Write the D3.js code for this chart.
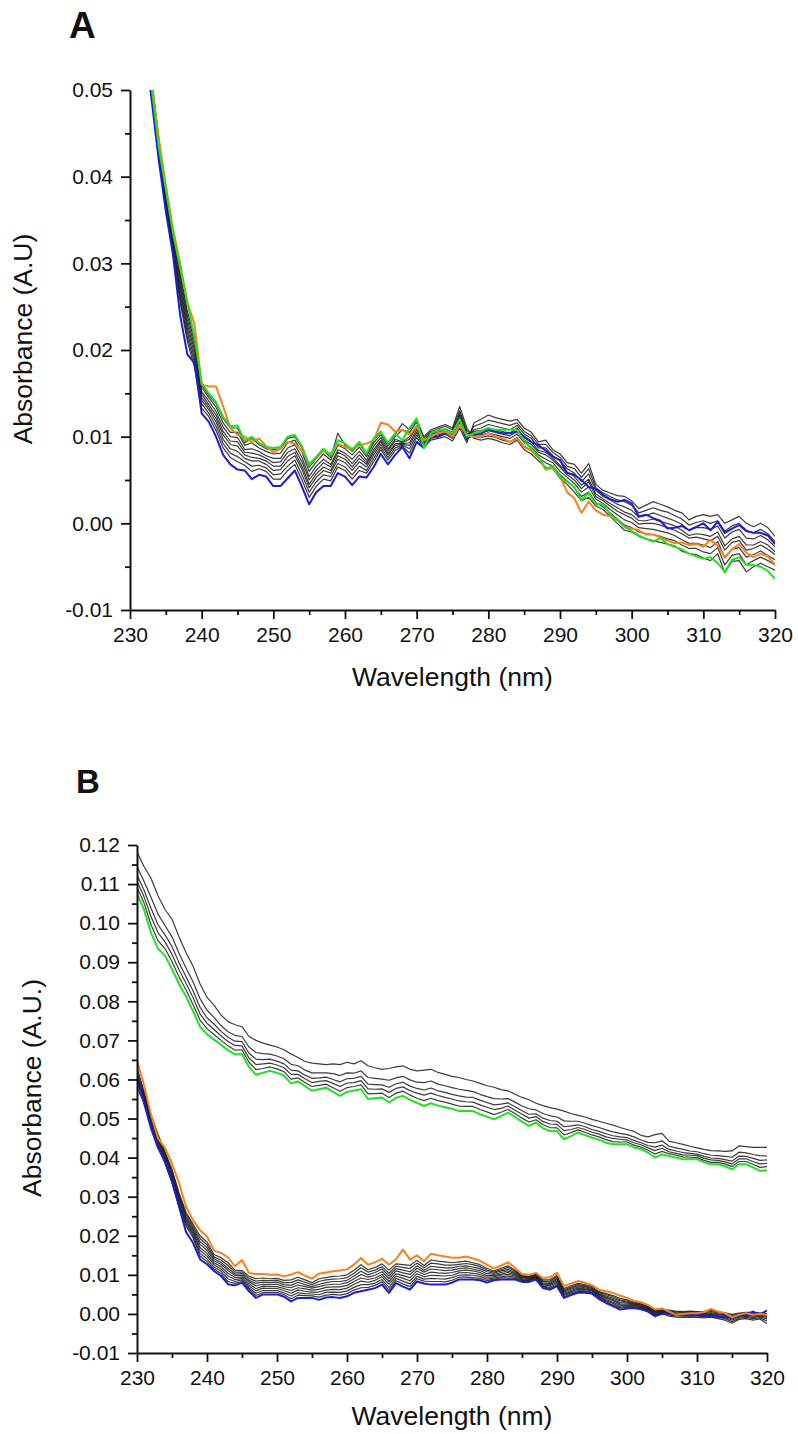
<!DOCTYPE html>
<html>
<head>
<meta charset="utf-8">
<script src="https://cdn.jsdelivr.net/npm/d3@7"></script>
<style>
  html, body { margin: 0; padding: 0; background: #fff; }
  svg { display: block; }
  text { font-family: "Liberation Sans", Arial, Helvetica, sans-serif; fill: #111; }
</style>
</head>
<body>
<svg id="chart" width="798" height="1434"></svg>
<script>
// Sampling grid: one point per nm, 230..320 nm
const wavelengths = d3.range(230, 321);

const xTicks = [230, 240, 250, 260, 270, 280, 290, 300, 310, 320];
const xMinorTicks = [235, 245, 255, 265, 275, 285, 295, 305, 315];
const yTicksA = [-0.01, 0.00, 0.01, 0.02, 0.03, 0.04, 0.05];
const yMinorTicksA = [-0.005, 0.005, 0.015, 0.025, 0.035, 0.045];
const yTicksB = [-0.01, 0.00, 0.01, 0.02, 0.03, 0.04, 0.05, 0.06, 0.07, 0.08, 0.09, 0.10, 0.11, 0.12];
const yMinorTicksB = [-0.005, 0.005, 0.015, 0.025, 0.035, 0.045, 0.055, 0.065, 0.075, 0.085, 0.095, 0.105, 0.115];

// ---- Panel A spectra (absorbance in 10^-3 A.U.) ----
const aBlue = [
  74, 64, 56, 49, 42, 36, 31, 24, 19.5, 18.5,
  12.7, 11.7, 10.0, 7.9, 6.8, 6.2, 6.1, 5.1, 5.6, 5.4,
  4.3, 4.3, 5.2, 6.1, 4.2, 2.2, 3.6, 4.3, 4.3, 5.8,
  5.4, 4.4, 5.4, 5.3, 6.5, 8.0, 6.8, 7.9, 8.8, 7.5,
  9.4, 8.7, 10.0, 10.0, 10.4, 10.0, 11.8, 9.8, 10.2, 10.4,
  10.8, 10.6, 10.4, 10.4, 10.6, 10.0, 9.4, 9.0, 8.4, 7.7,
  7.3, 5.8, 5.6, 5.0, 4.2, 4.0, 3.3, 2.8, 2.5, 2.7,
  2.3, 0.8, 1.0, 0.6, 0.3, -0.6, -0.5, -0.3, -0.8, -0.4,
  0.0, -0.8, 0.2, -1.1, -0.6, -0.2, -0.9, -1.1, -1.1, -1.4, -2.4
];
const aOrange = [
  77, 67, 59, 51, 44.5, 39, 34, 30, 25.5, 23,
  16.0, 15.8, 15.8, 13.5, 11.0, 10.2, 10.0, 9.4, 9.8, 8.9,
  8.2, 8.6, 9.4, 9.2, 8.4, 6.9, 7.6, 8.4, 8.0, 9.2,
  8.8, 8.6, 9.0, 9.2, 9.6, 11.6, 11.4, 10.6, 10.8, 10.2,
  11.2, 9.6, 10.0, 10.4, 10.6, 10.0, 11.4, 10.2, 10.0, 10.0,
  10.4, 10.0, 9.8, 9.4, 9.8, 8.8, 8.4, 7.6, 6.2, 6.4,
  5.4, 3.6, 2.9, 1.2, 2.5, 1.5, 1.0, 0.8, 0.4, -0.4,
  -0.6, -0.8, -1.3, -1.3, -1.6, -2.0, -2.3, -2.2, -2.5, -2.4,
  -2.7, -1.9, -2.6, -3.9, -3.0, -2.4, -3.4, -3.9, -3.5, -3.8, -4.8
];
const aGreen = [
  76, 66, 58, 50.5, 43.5, 38.5, 33.5, 29.5, 25.5, 21.5,
  16.2, 15.0, 14.0, 12.3, 11.2, 11.3, 9.5, 10.0, 9.3, 8.8,
  8.7, 8.8, 10.0, 10.2, 8.9, 6.7, 7.7, 8.6, 7.8, 9.6,
  9.2, 8.5, 9.4, 8.1, 9.8, 10.6, 9.3, 10.4, 9.6, 11.0,
  12.1, 8.7, 10.4, 10.8, 10.8, 10.4, 12.0, 10.0, 10.4, 10.6,
  11.0, 10.8, 10.8, 10.8, 10.8, 9.5, 8.6, 7.7, 6.3, 6.6,
  5.3, 4.8, 4.2, 2.7, 3.5, 2.2, 2.2, 1.0, 0.4, -0.4,
  -0.9, -1.4, -1.8, -2.1, -1.7, -2.4, -2.7, -3.0, -3.5, -3.8,
  -4.1, -3.9, -4.6, -5.6, -4.2, -3.9, -4.8, -4.8, -5.0, -5.5, -6.4
];
const aBlack1 = [
  75, 65, 57, 49.5, 42.5, 36.5, 31, 25.5, 21, 18,
  13.3, 12.3, 10.7, 8.7, 7.6, 7.1, 6.7, 6.0, 6.3, 6.0,
  5.1, 5.1, 6.1, 6.8, 5.0, 3.0, 4.3, 5.1, 4.9, 6.5,
  6.1, 5.1, 6.1, 5.8, 7.1, 8.5, 7.3, 8.4, 8.9, 8.1,
  9.9, 8.8, 9.6, 9.8, 10.0, 9.5, 11.0, 9.3, 11.6, 12.0,
  12.5, 12.2, 12.0, 11.8, 12.0, 11.0, 10.5, 9.4, 9.6, 8.5,
  8.0, 7.0, 6.8, 5.8, 6.9, 4.5, 3.8, 3.5, 3.2, 3.1,
  2.6, 1.7, 2.1, 2.5, 2.2, 1.9, 1.5, 1.2, 0.4, 0.8,
  1.0, 0.8, 1.0, 0.0, 0.4, 0.8, 0.0, -0.4, 0.0, -0.5, -1.5
];
const aBlack2 = [
  75.5, 65.5, 57, 50, 43, 37, 31.5, 26, 21.5, 18.5,
  13.8, 12.7, 11.2, 9.2, 8.1, 7.7, 7.1, 6.6, 6.7, 6.4,
  5.6, 5.7, 6.6, 7.3, 5.6, 3.6, 4.8, 5.6, 5.4, 6.9,
  6.5, 5.6, 6.6, 6.1, 7.5, 8.8, 7.6, 8.7, 9.0, 8.6,
  10.2, 9.0, 9.8, 10.0, 10.3, 9.8, 11.4, 9.6, 11.2, 11.5,
  11.9, 11.7, 11.5, 11.3, 11.6, 10.6, 10.1, 9.1, 9.1, 8.2,
  7.6, 6.6, 6.3, 5.3, 6.3, 4.1, 3.5, 3.1, 2.7, 2.5,
  2.1, 1.2, 1.5, 1.8, 1.5, 1.3, 0.9, 0.5, -0.2, 0.1,
  0.3, 0.0, 0.3, -0.9, -0.3, 0.0, -0.8, -1.1, -0.7, -1.2, -2.1
];
const aBlack3 = [
  76, 66, 57.5, 50, 43, 37, 32, 26.5, 22, 19,
  14.2, 13.1, 11.7, 9.7, 8.6, 8.3, 7.5, 7.2, 7.2, 6.8,
  6.1, 6.2, 7.2, 7.8, 6.2, 4.1, 5.3, 6.1, 5.8, 7.4,
  7.0, 6.1, 7.1, 6.5, 7.9, 9.1, 7.9, 9.0, 9.1, 9.0,
  10.5, 9.2, 10.0, 10.2, 10.5, 10.0, 11.8, 9.8, 10.8, 11.0,
  11.4, 11.2, 11.0, 10.8, 11.3, 10.3, 9.8, 8.7, 8.7, 7.8,
  7.2, 6.3, 5.8, 4.8, 5.7, 3.8, 3.1, 2.7, 2.2, 1.9,
  1.5, 0.7, 0.9, 1.2, 0.9, 0.6, 0.3, -0.1, -0.8, -0.5,
  -0.5, -0.7, -0.3, -1.7, -1.0, -0.7, -1.7, -1.8, -1.4, -1.9, -2.7
];
const aBlack4 = [
  76, 66, 58, 50.5, 43.5, 37.5, 32, 27, 22.5, 19.5,
  14.5, 13.4, 12.1, 10.2, 9.1, 8.9, 7.9, 7.6, 7.5, 7.2,
  6.6, 6.6, 7.7, 8.2, 6.6, 4.5, 5.7, 6.5, 6.1, 7.8,
  7.4, 6.5, 7.5, 6.8, 8.2, 9.4, 8.1, 9.2, 9.2, 9.3,
  10.8, 9.3, 10.1, 10.4, 10.6, 10.2, 12.1, 10.0, 10.6, 10.7,
  11.0, 10.8, 10.6, 10.4, 11.0, 9.9, 9.4, 8.4, 8.2, 7.5,
  6.7, 5.9, 5.4, 4.4, 5.1, 3.4, 2.8, 2.3, 1.8, 1.3,
  1.0, 0.3, 0.3, 0.5, 0.2, 0.0, -0.3, -0.8, -1.4, -1.2,
  -1.3, -1.5, -1.0, -2.6, -1.8, -1.5, -2.5, -2.5, -2.1, -2.5, -3.3
];
const aBlack5 = [
  76.5, 66.5, 58, 50.5, 43.5, 37.5, 32.5, 27.5, 23, 20,
  14.9, 13.7, 12.5, 10.6, 9.5, 9.4, 8.2, 8.1, 7.9, 7.5,
  7.0, 7.1, 8.2, 8.6, 7.1, 5.0, 6.1, 7.0, 6.5, 8.2,
  7.8, 6.9, 7.9, 7.0, 8.5, 9.6, 8.4, 9.5, 9.3, 9.7,
  11.1, 9.5, 10.3, 10.5, 10.8, 10.4, 12.4, 10.2, 10.4, 10.4,
  10.7, 10.5, 10.3, 10.1, 10.6, 9.6, 9.1, 8.2, 7.9, 7.3,
  6.5, 5.6, 5.0, 4.0, 4.8, 3.1, 2.6, 2.0, 1.4, 1.0,
  0.6, -0.1, 0.0, 0.0, -0.2, -0.5, -0.8, -1.2, -1.7, -1.6,
  -1.8, -2.0, -1.5, -3.1, -2.2, -2.0, -3.1, -2.9, -2.5, -3.0, -3.6
];
const aBlack6 = [
  77, 67, 58.5, 51, 44, 38, 33, 28, 23.5, 20.5,
  15.2, 14.1, 12.9, 11.1, 10.0, 9.9, 8.5, 8.6, 8.3, 7.8,
  7.5, 7.5, 8.7, 9.1, 7.6, 5.4, 6.6, 7.4, 6.8, 8.5,
  8.1, 7.4, 8.3, 7.3, 8.9, 9.9, 8.6, 9.7, 9.4, 10.0,
  11.3, 9.6, 10.4, 10.7, 10.9, 10.5, 12.7, 10.4, 10.2, 10.2,
  10.4, 10.2, 10.0, 9.8, 10.3, 9.3, 8.8, 7.9, 7.4, 7.0,
  6.0, 5.3, 4.6, 3.6, 4.2, 2.8, 2.3, 1.6, 1.0, 0.4,
  0.1, -0.5, -0.6, -0.7, -0.9, -1.1, -1.4, -1.9, -2.3, -2.3,
  -2.5, -2.8, -2.1, -4.0, -3.0, -2.8, -3.9, -3.6, -3.2, -3.7, -4.2
];
const aBlack7 = [
  77, 67, 58.5, 51, 44, 38.5, 33, 28.5, 24, 21,
  15.7, 14.5, 13.4, 11.6, 10.5, 10.5, 9.0, 9.3, 8.7, 8.3,
  8.0, 8.1, 9.3, 9.6, 8.2, 6.0, 7.1, 8.0, 7.3, 9.0,
  8.6, 7.9, 8.8, 7.7, 9.3, 10.2, 8.9, 10.0, 10.8, 10.5,
  11.7, 9.8, 10.6, 10.9, 11.2, 10.8, 13.0, 10.7, 10.0, 9.9,
  10.1, 9.9, 9.6, 9.4, 9.9, 8.9, 8.4, 7.5, 7.0, 6.6,
  5.6, 4.9, 4.1, 3.1, 3.6, 2.4, 1.9, 1.2, 0.5, -0.2,
  -0.5, -1.0, -1.2, -1.3, -1.5, -1.8, -2.0, -2.5, -2.9, -2.9,
  -3.3, -3.5, -2.8, -4.8, -3.7, -3.5, -4.8, -4.3, -3.9, -4.3, -4.8
];
const aBlack8 = [
  77.5, 67.5, 59, 51.5, 44.5, 38.5, 33.5, 29, 24.5, 21.5,
  16.0, 14.8, 13.8, 12.1, 11.0, 11.0, 9.3, 9.8, 9.1, 8.6,
  8.5, 8.6, 9.8, 10.0, 8.7, 6.5, 7.5, 8.4, 7.6, 10.4,
  9.0, 8.3, 9.2, 8.0, 9.6, 10.5, 9.2, 10.3, 11.5, 10.8,
  12.0, 10.0, 10.8, 11.1, 11.4, 11.0, 13.5, 11.0, 9.8, 9.6,
  9.8, 9.6, 9.3, 9.1, 9.6, 8.5, 8.0, 7.2, 6.5, 6.3,
  5.2, 4.5, 3.6, 2.6, 3.0, 2.0, 1.6, 0.8, 0.0, -0.8,
  -1.0, -1.5, -1.8, -2.0, -2.2, -2.4, -2.6, -3.2, -3.5, -3.6,
  -4.0, -4.3, -3.5, -5.7, -4.4, -4.3, -5.6, -5.0, -4.6, -5.0, -5.4
];

// ---- Panel B spectra (absorbance in 10^-3 A.U.) ----
const bGreen = [
  107.5, 103.5, 97.5, 93.5, 91.7, 88.2, 84.5, 81.2, 77.5, 73.5,
  71.6, 70.2, 68.9, 67.5, 66.4, 66.5, 63.2, 61.2, 61.7, 62.2,
  61.7, 61.0, 59.0, 59.5, 58.3, 57.1, 57.5, 57.9, 56.8, 55.8,
  56.8, 57.2, 57.5, 55.0, 55.2, 55.4, 54.1, 55.3, 55.8, 54.8,
  54.0, 53.2, 53.9, 53.3, 52.9, 52.5, 51.9, 51.9, 51.9, 51.1,
  50.5, 49.8, 50.6, 51.5, 50.4, 49.2, 48.1, 49.0, 47.5, 46.8,
  46.8, 44.7, 45.5, 46.4, 45.8, 45.1, 44.6, 43.8, 43.4, 43.4,
  43.4, 42.6, 42.2, 41.3, 40.0, 40.8, 40.4, 40.0, 39.6, 39.6,
  39.6, 38.8, 38.3, 38.3, 37.8, 37.0, 38.3, 38.3, 37.5, 36.6, 36.8
];
const bUpper1 = [
  118.2, 114.5, 111.5, 107.0, 103.5, 101.0, 96.5, 92.5, 89.0, 84.5,
  81.0, 79.0, 76.5, 74.8, 74.0, 73.5, 71.0, 70.0, 69.3, 68.8,
  68.3, 67.6, 66.5, 65.6, 64.6, 64.2, 64.0, 63.8, 64.0, 63.8,
  64.4, 64.0, 64.8, 63.5, 63.0, 62.6, 62.8, 63.2, 63.5, 62.6,
  62.2, 62.4, 62.6, 61.8, 61.3, 60.8, 60.5, 60.0, 59.6, 59.0,
  58.4, 58.0, 57.4, 57.1, 56.2, 55.4, 54.8, 53.9, 53.3, 52.8,
  52.4, 51.9, 51.3, 50.8, 50.4, 49.8, 49.3, 48.8, 48.3, 47.7,
  47.2, 46.7, 45.7, 45.3, 45.9, 46.2, 44.2, 43.8, 43.4, 42.9,
  42.5, 42.1, 41.8, 41.7, 41.6, 41.7, 43.0, 42.8, 42.6, 42.6, 42.6
];
const bUpper2 = [
  114.5, 110.7, 106.6, 102.3, 99.4, 96.5, 92.3, 88.5, 85.0, 80.7,
  77.7, 75.9, 73.8, 72.2, 71.3, 71.0, 68.3, 66.9, 66.6, 66.5,
  66.0, 65.3, 63.9, 63.5, 62.4, 61.7, 61.7, 61.7, 61.5, 61.0,
  61.7, 61.6, 62.2, 60.5, 60.3, 60.1, 59.8, 60.4, 60.8, 59.9,
  59.3, 59.2, 59.6, 58.8, 58.4, 57.9, 57.5, 57.2, 56.9, 56.2,
  55.6, 55.1, 55.0, 55.1, 54.2, 53.2, 52.5, 52.2, 51.3, 50.7,
  50.4, 49.4, 49.3, 49.3, 48.8, 48.2, 47.7, 47.1, 46.6, 46.2,
  45.9, 45.3, 44.5, 43.9, 43.8, 44.3, 42.9, 42.5, 42.1, 41.7,
  41.5, 41.0, 40.6, 40.5, 40.3, 40.1, 41.4, 41.2, 40.8, 40.5, 40.4
];
const bUpper3 = [
  112.3, 108.5, 103.8, 99.6, 97.0, 94.0, 89.9, 86.3, 82.7, 78.5,
  75.8, 74.2, 72.3, 70.8, 69.8, 69.7, 66.7, 65.2, 65.1, 65.2,
  64.7, 64.0, 62.4, 62.2, 61.1, 60.3, 60.4, 60.6, 60.0, 59.4,
  60.2, 60.3, 60.8, 58.8, 58.7, 58.6, 58.0, 58.9, 59.3, 58.3,
  57.7, 57.3, 57.8, 57.1, 56.7, 56.2, 55.8, 55.5, 55.4, 54.7,
  54.1, 53.5, 53.7, 54.0, 53.0, 52.0, 51.1, 51.2, 50.1, 49.5,
  49.3, 47.9, 48.1, 48.4, 47.9, 47.2, 46.7, 46.1, 45.6, 45.3,
  45.1, 44.4, 43.8, 43.1, 42.7, 43.2, 42.1, 41.7, 41.3, 41.1,
  40.9, 40.3, 39.9, 39.8, 39.5, 39.1, 40.4, 40.3, 39.8, 39.3, 39.4
];
const bUpper4 = [
  110.7, 106.8, 101.7, 97.6, 95.2, 92.0, 88.1, 84.6, 81.0, 76.8,
  74.4, 72.8, 71.2, 69.7, 68.7, 68.6, 65.5, 63.8, 64.0, 64.2,
  63.7, 63.0, 61.3, 61.3, 60.2, 59.2, 59.5, 59.7, 59.0, 58.2,
  59.1, 59.2, 59.7, 57.6, 57.5, 57.6, 56.7, 57.7, 58.1, 57.1,
  56.5, 56.0, 56.5, 55.9, 55.4, 55.0, 54.5, 54.3, 54.2, 53.5,
  52.9, 52.3, 52.6, 53.2, 52.1, 51.1, 50.1, 50.5, 49.2, 48.6,
  48.5, 46.9, 47.2, 47.7, 47.2, 46.5, 46.0, 45.3, 44.9, 44.7,
  44.5, 43.8, 43.3, 42.5, 41.8, 42.4, 41.5, 41.1, 40.7, 40.6,
  40.5, 39.8, 39.4, 39.3, 38.9, 38.4, 39.7, 39.7, 39.0, 38.4, 38.5
];
const bUpper5 = [
  109.1, 105.2, 99.6, 95.5, 93.5, 90.1, 86.3, 82.9, 79.2, 75.2,
  73.0, 71.5, 70.0, 68.6, 67.5, 67.6, 64.4, 62.5, 62.8, 63.2,
  62.7, 62.0, 60.1, 60.4, 59.2, 58.2, 58.5, 58.8, 57.9, 57.0,
  57.9, 58.2, 58.6, 56.3, 56.4, 56.5, 55.4, 56.5, 57.0, 56.0,
  55.2, 54.6, 55.2, 54.6, 54.2, 53.7, 53.2, 53.1, 53.1, 52.3,
  51.7, 51.0, 51.6, 52.3, 51.3, 50.1, 49.1, 49.7, 48.4, 47.7,
  47.6, 45.8, 46.4, 47.1, 46.5, 45.8, 45.3, 44.6, 44.1, 44.0,
  44.0, 43.2, 42.7, 41.9, 40.9, 41.6, 41.0, 40.6, 40.2, 40.1,
  40.0, 39.3, 38.8, 38.8, 38.4, 37.7, 39.0, 39.0, 38.3, 37.5, 37.7
];
const bBlue = [
  60.5, 54.0, 47.5, 42.5, 39.0, 34.0, 27.5, 21.0, 18.2, 14.0,
  12.7, 11.0, 9.7, 7.6, 7.3, 8.0, 5.8, 4.1, 5.0, 5.0,
  5.0, 4.4, 3.2, 4.1, 4.1, 4.1, 3.6, 4.2, 4.3, 4.1,
  4.5, 5.4, 5.8, 6.2, 6.6, 7.5, 5.4, 7.9, 7.0, 6.2,
  8.3, 7.8, 7.5, 7.5, 7.5, 8.0, 8.8, 8.8, 8.8, 8.6,
  8.0, 8.6, 8.8, 8.8, 8.8, 8.2, 8.2, 8.8, 6.6, 6.2,
  7.1, 4.1, 4.8, 5.4, 5.4, 5.2, 3.8, 2.8, 2.0, 1.1,
  1.4, 1.5, 1.2, 0.6, -0.6, 0.0, 0.1, -0.1, -0.2, -0.2,
  -0.2, -0.4, -0.6, -0.7, -0.8, -0.9, -0.4, -0.2, 0.6, -0.2, 0.9
];
const bOrange = [
  65.0, 58.5, 51.0, 45.0, 42.5, 38.5, 33.5, 27.5, 24.0, 21.5,
  19.8, 16.2, 15.6, 14.5, 12.2, 13.8, 10.5, 10.2, 10.2, 10.0,
  10.1, 9.6, 10.1, 10.7, 9.8, 9.0, 10.3, 10.6, 10.9, 11.1,
  11.4, 12.6, 14.3, 12.6, 13.2, 14.1, 12.6, 14.0, 16.5, 13.9,
  15.0, 13.5, 15.4, 15.0, 14.7, 14.4, 14.4, 14.7, 14.2, 13.6,
  12.6, 11.6, 12.4, 13.2, 11.8, 10.2, 10.0, 10.5, 9.2, 9.4,
  10.5, 7.1, 7.8, 8.4, 8.0, 7.4, 6.2, 5.8, 5.4, 4.7,
  4.1, 3.4, 3.0, 2.3, 1.2, 1.4, 0.6, -0.2, 0.0, 0.2,
  0.2, 0.5, 1.3, 0.6, 0.2, -0.9, -0.2, 0.2, -0.2, 0.0, -0.2
];
const bLower1 = [
  58, 54, 48, 43, 38.5, 33.5, 27.5, 22.5, 19.5, 14.8,
  13.4, 11.5, 10.3, 8.3, 7.8, 8.3, 6.3, 4.7, 5.5, 5.5,
  5.5, 4.9, 3.9, 4.8, 4.7, 4.6, 4.3, 4.8, 5.0, 4.8,
  5.2, 6.1, 6.7, 6.8, 7.3, 8.2, 6.1, 8.5, 7.7, 7.0,
  9.0, 8.4, 8.3, 8.3, 8.2, 8.6, 9.4, 9.4, 9.3, 9.1,
  8.5, 8.9, 9.2, 9.2, 9.1, 8.4, 8.4, 9.0, 6.9, 6.5,
  7.4, 4.4, 5.1, 5.7, 5.7, 5.4, 4.0, 3.1, 2.3, 1.5,
  1.7, 1.7, 1.4, 0.8, -0.4, 0.1, -0.6, -0.8, -0.9, -0.8,
  -0.9, -1.0, -0.8, -1.2, -1.6, -2.4, -1.4, -1.2, -1.6, -1.3, -2.5
];
const bLower2 = [
  59, 54.5, 48.5, 43.5, 39, 34, 28, 23, 20, 15.5,
  14.1, 12.0, 10.9, 9.0, 8.3, 8.7, 6.7, 5.3, 6.0, 6.0,
  6.0, 5.4, 4.6, 5.4, 5.2, 5.1, 4.9, 5.5, 5.6, 5.5,
  5.9, 6.8, 7.5, 7.5, 7.9, 8.8, 6.8, 9.1, 8.4, 7.7,
  9.6, 8.9, 9.1, 9.0, 8.9, 9.3, 9.9, 10.0, 9.9, 9.6,
  8.9, 9.2, 9.5, 9.7, 9.4, 8.6, 8.6, 9.1, 7.1, 6.8,
  7.8, 4.7, 5.4, 6.0, 5.9, 5.6, 4.3, 3.4, 2.7, 1.8,
  1.9, 1.9, 1.6, 0.9, -0.2, 0.3, -0.3, -0.5, -0.6, -0.5,
  -0.6, -0.7, -0.5, -0.9, -1.2, -2.0, -1.1, -0.9, -1.2, -1.0, -1.8
];
const bLower3 = [
  60, 55, 49, 44, 39.5, 34.5, 28.5, 23.5, 20.5, 16.3,
  14.8, 12.6, 11.5, 9.7, 8.8, 9.1, 7.2, 5.9, 6.6, 6.5,
  6.5, 6.0, 5.3, 6.1, 5.8, 5.6, 5.6, 6.1, 6.3, 6.2,
  6.6, 7.6, 8.4, 8.1, 8.6, 9.5, 7.6, 9.7, 9.1, 8.5,
  10.3, 9.5, 9.9, 9.8, 9.7, 9.9, 10.5, 10.6, 10.4, 10.1,
  9.4, 9.5, 9.9, 10.1, 9.7, 8.8, 8.7, 9.3, 7.4, 7.2,
  8.1, 5.0, 5.7, 6.3, 6.2, 5.9, 4.5, 3.7, 3.0, 2.2,
  2.2, 2.1, 1.7, 1.1, -0.1, 0.4, 0.0, -0.3, -0.4, -0.3,
  -0.4, -0.5, -0.3, -0.6, -0.9, -1.6, -0.8, -0.6, -0.9, -0.7, -1.3
];
const bLower4 = [
  60.5, 55.5, 49.5, 44.5, 40, 35, 29, 24, 21, 17.0,
  15.5, 13.1, 12.1, 10.4, 9.3, 9.5, 7.7, 6.5, 7.1, 7.0,
  7.0, 6.5, 6.0, 6.7, 6.4, 6.1, 6.3, 6.8, 6.9, 6.9,
  7.3, 8.3, 9.2, 8.8, 9.2, 10.1, 8.3, 10.3, 9.8, 9.3,
  11.0, 10.1, 10.7, 10.5, 10.4, 10.6, 11.0, 11.2, 11.0, 10.6,
  9.8, 9.8, 10.2, 10.6, 10.0, 9.0, 8.9, 9.5, 7.6, 7.5,
  8.5, 5.3, 6.0, 6.6, 6.4, 6.1, 4.8, 4.0, 3.4, 2.5,
  2.5, 2.3, 1.9, 1.3, 0.1, 0.6, 0.2, -0.1, -0.2, -0.1,
  -0.2, -0.3, -0.1, -0.4, -0.6, -1.3, -0.6, -0.4, -0.6, -0.5, -0.9
];
const bLower5 = [
  61, 56, 50, 45, 40.5, 35.5, 29.5, 24.5, 21.5, 17.8,
  16.3, 13.6, 12.7, 11.1, 9.8, 9.9, 8.2, 7.2, 7.6, 7.5,
  7.6, 7.0, 6.7, 7.4, 7.0, 6.6, 7.0, 7.4, 7.6, 7.6,
  8.0, 9.0, 10.1, 9.4, 9.9, 10.8, 9.0, 11.0, 10.5, 10.1,
  11.7, 10.7, 11.5, 11.3, 11.1, 11.2, 11.6, 11.8, 11.5, 11.1,
  10.3, 10.1, 10.6, 11.0, 10.3, 9.2, 9.1, 9.7, 7.9, 7.8,
  8.8, 5.6, 6.3, 6.9, 6.7, 6.3, 5.0, 4.3, 3.7, 2.9,
  2.8, 2.5, 2.1, 1.5, 0.3, 0.7, 0.4, 0.1, 0.0, 0.1,
  0.0, -0.1, 0.1, -0.2, -0.4, -1.0, -0.4, -0.2, -0.4, -0.3, -0.6
];
const bLower6 = [
  61.5, 56, 50.5, 45.5, 41, 36, 30, 25, 22, 18.5,
  17.0, 14.1, 13.2, 11.7, 10.2, 10.3, 8.6, 7.8, 8.1, 8.0,
  8.1, 7.5, 7.3, 8.1, 7.5, 7.0, 7.6, 8.0, 8.3, 8.3,
  8.6, 9.7, 10.9, 10.0, 10.6, 11.5, 9.7, 11.6, 11.2, 10.8,
  12.3, 11.2, 12.2, 12.0, 11.8, 11.8, 12.2, 12.3, 12.0, 11.6,
  10.8, 10.4, 11.0, 11.4, 10.6, 9.4, 9.3, 9.8, 8.2, 8.1,
  9.1, 5.9, 6.6, 7.2, 7.0, 6.5, 5.2, 4.6, 4.0, 3.3,
  3.0, 2.6, 2.3, 1.6, 0.5, 0.8, 0.6, 0.3, 0.2, 0.3,
  0.2, 0.1, 0.3, 0.0, -0.2, -0.7, -0.2, 0.0, -0.1, -0.1, -0.4
];
const bLower7 = [
  62, 56.5, 51, 45.5, 41, 36.5, 30.5, 25.5, 22.5, 19.3,
  17.7, 14.6, 13.8, 12.4, 10.7, 10.7, 9.1, 8.4, 8.6, 8.5,
  8.6, 8.0, 8.0, 8.7, 8.1, 7.5, 8.3, 8.7, 8.9, 9.0,
  9.3, 10.4, 11.8, 10.7, 11.2, 12.1, 10.4, 12.2, 11.9, 11.6,
  13.0, 11.8, 13.0, 12.8, 12.5, 12.5, 12.7, 12.9, 12.6, 12.1,
  11.2, 10.7, 11.3, 11.9, 10.9, 9.6, 9.5, 10.0, 8.4, 8.4,
  9.5, 6.2, 6.9, 7.5, 7.2, 6.7, 5.5, 4.9, 4.4, 3.6,
  3.3, 2.8, 2.5, 1.8, 0.7, 1.0, 0.8, 0.5, 0.4, 0.5,
  0.4, 0.3, 0.6, 0.3, 0.1, -0.4, 0.0, 0.2, 0.1, 0.1, -0.2
];
const bLower8 = [
  63, 57, 51, 46, 41.5, 37, 31, 26, 23, 20.0,
  18.4, 15.2, 14.4, 13.1, 11.2, 11.1, 9.6, 9.0, 9.2, 9.0,
  9.1, 8.6, 8.7, 9.4, 8.7, 8.0, 9.0, 9.3, 9.6, 9.7,
  10.0, 11.2, 12.6, 11.3, 11.9, 12.8, 11.2, 12.8, 12.6, 12.4,
  13.7, 12.4, 13.8, 13.5, 13.3, 13.1, 13.3, 13.5, 13.1, 12.6,
  11.7, 11.0, 11.7, 12.3, 11.2, 9.8, 9.6, 10.2, 8.7, 8.8,
  9.8, 6.5, 7.2, 7.8, 7.5, 7.0, 5.7, 5.2, 4.7, 4.0,
  3.6, 3.0, 2.6, 2.0, 0.8, 1.1, 1.0, 0.7, 0.6, 0.7,
  0.6, 0.6, 0.9, 0.5, 0.3, -0.1, 0.2, 0.4, 0.4, 0.3, 0.1
];

const COLORS = { blue: "#1d1dd8", orange: "#f5821e", green: "#22e022", black: "#1a1a1a" };

const svg = d3.select("#chart");

function drawPanel(cfg) {
    const x = d3.scaleLinear().domain([230, 320]).range([cfg.left, cfg.right]);
    const y = d3.scaleLinear().domain(cfg.yDomain).range([cfg.bottom, cfg.top]);

    const g = svg.append("g");

    const clipId = "clip-" + cfg.label;
    svg.append("clipPath").attr("id", clipId)
        .append("rect")
        .attr("x", cfg.left)
        .attr("y", cfg.top)
        .attr("width", cfg.right - cfg.left)
        .attr("height", cfg.bottom - cfg.top);

    // values are stored in mAU
    const line = d3.line()
        .x((d, i) => x(wavelengths[i]))
        .y(d => y(d / 1000));

    const plot = g.append("g").attr("clip-path", `url(#${clipId})`);

    plot.selectAll(".black")
        .data(cfg.blacks)
        .join("path")
        .attr("class", "black")
        .attr("d", line)
        .attr("fill", "none")
        .attr("stroke", COLORS.black)
        .attr("stroke-opacity", 0.85)
        .attr("stroke-width", 1.2)
        .attr("stroke-linejoin", "round");

    plot.selectAll(".colored")
        .data(cfg.colored)
        .join("path")
        .attr("class", "colored")
        .attr("d", d => line(d.values))
        .attr("fill", "none")
        .attr("stroke", d => COLORS[d.color])
        .attr("stroke-width", 2)
        .attr("stroke-linejoin", "round");

    // Minor ticks first, then major axes on top
    g.append("g")
        .attr("transform", `translate(0,${cfg.bottom})`)
        .call(d3.axisBottom(x).tickValues(xMinorTicks).tickSize(5).tickSizeOuter(0).tickFormat(""))
        .call(a => a.select(".domain").remove());
    g.append("g")
        .attr("transform", `translate(${cfg.left},0)`)
        .call(d3.axisLeft(y).tickValues(cfg.yMinor).tickSize(5).tickSizeOuter(0).tickFormat(""))
        .call(a => a.select(".domain").remove());

    g.append("g")
        .attr("transform", `translate(0,${cfg.bottom})`)
        .call(d3.axisBottom(x).tickValues(xTicks).tickSize(9).tickSizeOuter(0).tickPadding(8));
    g.append("g")
        .attr("transform", `translate(${cfg.left},0)`)
        .call(d3.axisLeft(y).tickValues(cfg.yTicks).tickSize(9).tickSizeOuter(0).tickPadding(8)
            .tickFormat(d => d.toFixed(2)));

    g.selectAll(".domain").attr("stroke", "#111").attr("stroke-width", 2);
    g.selectAll(".tick line").attr("stroke", "#111").attr("stroke-width", 1.8);
    g.selectAll(".tick text").style("font-size", "21px").attr("fill", "#111");

    // axis titles
    g.append("text")
        .attr("x", (cfg.left + cfg.right) / 2)
        .attr("y", cfg.xTitleY)
        .attr("text-anchor", "middle")
        .style("font-size", "26.5px")
        .text("Wavelength (nm)");

    g.append("text")
        .attr("transform", `translate(${cfg.yTitleX},${cfg.yTitleY}) rotate(-90)`)
        .attr("text-anchor", "middle")
        .style("font-size", "26.5px")
        .text(cfg.yTitle);

    // panel letter
    g.append("text")
        .attr("x", cfg.labelX)
        .attr("y", cfg.labelY)
        .style("font-size", cfg.labelSize + "px")
        .style("font-weight", "bold")
        .text(cfg.label);
}

drawPanel({
    label: "A", labelX: 69, labelY: 38, labelSize: 37,
    left: 130, right: 775, top: 90, bottom: 610,
    yDomain: [-0.01, 0.05], yTicks: yTicksA, yMinor: yMinorTicksA,
    xTitleY: 686, yTitleX: 32, yTitleY: 339,
    yTitle: "Absorbance (A.U)",
    blacks: [aBlack1, aBlack2, aBlack3, aBlack4, aBlack5, aBlack6, aBlack7, aBlack8],
    colored: [
        { color: "blue", values: aBlue },
        { color: "orange", values: aOrange },
        { color: "green", values: aGreen }
    ]
});

drawPanel({
    label: "B", labelX: 76, labelY: 793, labelSize: 33,
    left: 137, right: 767, top: 845, bottom: 1353,
    yDomain: [-0.01, 0.12], yTicks: yTicksB, yMinor: yMinorTicksB,
    xTitleY: 1425, yTitleX: 41, yTitleY: 1088,
    yTitle: "Absorbance (A.U.)",
    blacks: [bUpper1, bUpper2, bUpper3, bUpper4, bUpper5,
             bLower1, bLower2, bLower3, bLower4, bLower5, bLower6, bLower7, bLower8],
    colored: [
        { color: "blue", values: bBlue },
        { color: "orange", values: bOrange },
        { color: "green", values: bGreen }
    ]
});
</script>
</body>
</html>
